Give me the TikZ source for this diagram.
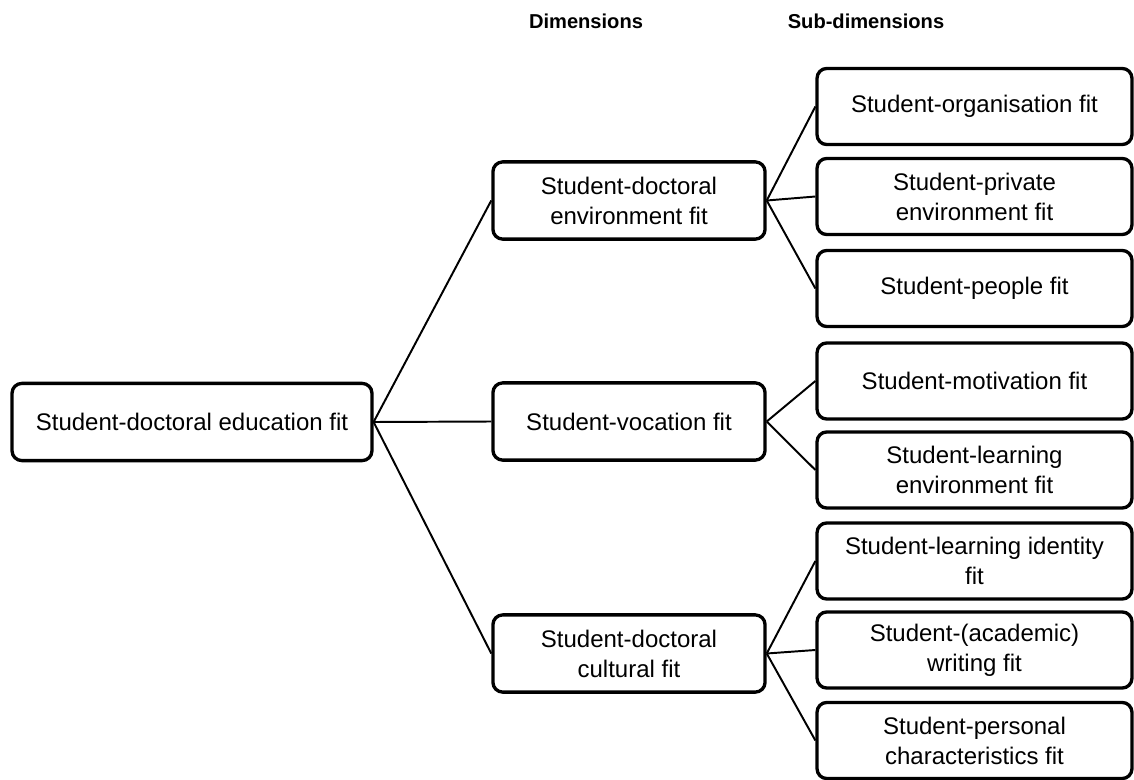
\documentclass[tikz,border=0pt]{standalone}
\usepackage{fontspec}
\setmainfont{Liberation Sans}
\usepackage{tikz}

\tikzset{
  fitbox/.style={draw, line width=1.7pt, rounded corners=5pt, align=center, inner sep=0pt,
    font=\fontsize{12.3}{15.4}\selectfont},
  rootbox/.style={fitbox, minimum width=6.48cm, minimum height=1.39cm},
  dimbox/.style={fitbox, minimum width=4.9cm, minimum height=1.39cm},
  subbox/.style={fitbox, minimum width=5.67cm, minimum height=1.37cm},
  colhead/.style={font=\fontsize{10.3}{12}\selectfont\bfseries},
  link/.style={line width=1pt}
}

\begin{document}
\begin{tikzpicture}[x=0.018cm, y=-0.018cm]
            \useasboundingbox (0,0) rectangle (1134,780);

            % Headings
            \node[colhead] (hdim) at (586,21) {Dimensions};
            \node[colhead] (hsub) at (866,21) {Sub-dimensions};

            % Nodes
            \node[rootbox] (root) at (192,422) {Student-doctoral education fit};
            \node[dimbox] (env) at (629,200.5) {Student-doctoral\\environment fit};
            \node[dimbox] (voc) at (629,421.5) {Student-vocation fit};
            \node[dimbox] (cult) at (629,653.5) {Student-doctoral\\cultural fit};

            \node[subbox] (org) at (974.5,106.5) {Student-organisation fit};
            \node[subbox] (priv) at (974.5,196.5) {Student-private\\environment fit};
            \node[subbox] (people) at (974.5,288.5) {Student-people fit};
            \node[subbox] (motiv) at (974.5,381) {Student-motivation fit};
            \node[subbox] (learnenv) at (974.5,470) {Student-learning\\environment fit};
            \node[subbox] (ident) at (974.5,561) {Student-learning identity\\fit};
            \node[subbox] (writing) at (974.5,650) {Student-(academic)\\writing fit};
            \node[subbox] (personal) at (974.5,740.5) {Student-personal\\characteristics fit};

            % Edges
            \draw[link] (root.east) -- (env.west);
            \draw[link] (root.east) -- (voc.west);
            \draw[link] (root.east) -- (cult.west);
            \draw[link] (env.east) -- (org.west);
            \draw[link] (env.east) -- (priv.west);
            \draw[link] (env.east) -- (people.west);
            \draw[link] (voc.east) -- (motiv.west);
            \draw[link] (voc.east) -- (learnenv.west);
            \draw[link] (cult.east) -- (ident.west);
            \draw[link] (cult.east) -- (writing.west);
            \draw[link] (cult.east) -- (personal.west);
        \end{tikzpicture}
\end{document}
